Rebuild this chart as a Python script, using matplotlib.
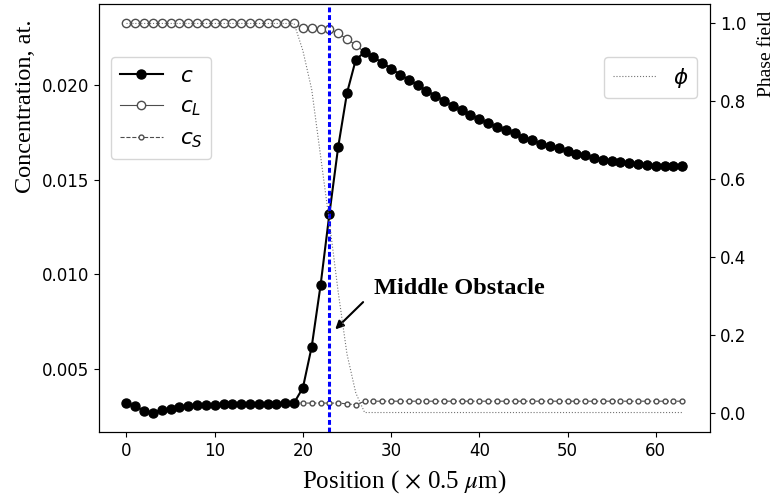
#!/usr/bin/env python
# -*- coding: utf-8 -*-
"""Concentration profiles and phase field across the middle obstacle."""
import matplotlib as mpl

mpl.use("Agg")
import matplotlib.pyplot as plt

# grid position (x 0.5 um)
position = list(range(64))

# total concentration c
c = [
    0.00316, 0.00303, 0.00275, 0.00268, 0.00281, 0.00289, 0.00296, 0.00302,
    0.00306, 0.00309, 0.00310, 0.00311, 0.00312, 0.00312, 0.00314, 0.00314,
    0.00315, 0.00315, 0.00316, 0.00319, 0.00399, 0.00617, 0.00941, 0.01318,
    0.01674, 0.01960, 0.02137, 0.02176, 0.02149, 0.02120, 0.02088, 0.02057,
    0.02030, 0.02002, 0.01972, 0.01945, 0.01919, 0.01892, 0.01869, 0.01844,
    0.01822, 0.01800, 0.01782, 0.01765, 0.01747, 0.01724, 0.01710, 0.01692,
    0.01680, 0.01668, 0.01653, 0.01639, 0.01630, 0.01618, 0.01607, 0.01602,
    0.01595, 0.01588, 0.01582, 0.01579, 0.01575, 0.01572, 0.01572, 0.01572,
]

# liquid concentration: own values up to x=26, equal to c in the liquid
c_L_solid = [0.02328] * 20 + [0.02302, 0.02302, 0.02300, 0.02298, 0.02275, 0.02246, 0.02213]
c_L = c_L_solid + c[27:]

# solid concentration: equal to c in the solid, own values after
c_S_liquid = [0.00318, 0.00318, 0.00318, 0.00318, 0.00318, 0.00314, 0.00309] + [0.00328] * 37
c_S = c[:20] + c_S_liquid

# phase field
phi = [1.0] * 20 + [0.93, 0.83, 0.66, 0.49, 0.31, 0.15, 0.05] + [0.0] * 37

obstacle_x = 23

serif = ["Liberation Serif", "DejaVu Serif"]

fig = plt.figure(figsize=(7.79, 4.95), dpi=100)
ax1 = fig.add_axes([0.1267, 0.1273, 0.7847, 0.8646])

ax1.plot(position, c, "k-o", lw=1.5, ms=6.5, label="$c$", zorder=4)
ax1.plot(position, c_L, "-o", color="0.3", lw=0.8, ms=6, mfc="white",
         mec="0.3", label="$c_L$", zorder=3)
ax1.plot(position, c_S, "--o", color="0.3", lw=0.8, ms=3.5, mfc="white",
         mec="0.3", label="$c_S$", zorder=3)
ax1.axvline(obstacle_x, color="b", ls=(0, (1.6, 0.9)), lw=2.2, zorder=5)

ax1.set_xticks([0, 10, 20, 30, 40, 50, 60])
ax1.set_yticks([0.005, 0.010, 0.015, 0.020])
ax1.tick_params(labelsize=12)
ax1.set_ylabel("Concentration, at.", family=serif, fontsize=17.5)
ax1.yaxis.set_label_coords(-0.1026, 0.762)
ax1.set_xlabel(r"Position ( $\times$ 0.5 $\mu$m)", family=serif, fontsize=18,
               math_fontfamily="stix", labelpad=6)
ax1.legend(loc="upper left", bbox_to_anchor=(0.02, 0.876), borderaxespad=0,
           fontsize=15.5)

ax1.annotate("", xy=(23.44, 0.00698), xytext=(27.05, 0.00863),
             arrowprops=dict(arrowstyle="-|>", color="k", lw=1.5,
                             mutation_scale=12))
ax1.text(28.07, 0.00893, "Middle Obstacle", family=serif, fontsize=17.5,
         fontweight="bold", va="baseline", ha="left")

ax2 = ax1.twinx()
ax2.plot(position, phi, ":", color="0.45", lw=0.8, label=r"$\phi$")
ax2.set_yticks([0.0, 0.2, 0.4, 0.6, 0.8, 1.0])
ax2.tick_params(labelsize=12)
ax2.set_ylabel("Phase field", family=serif, fontsize=14)
ax2.yaxis.set_label_coords(1.079, 0.884)
ax2.legend(loc="upper right", bbox_to_anchor=(0.979, 0.876), borderaxespad=0,
           fontsize=15.5)

plt.savefig("out.png", dpi=100)
